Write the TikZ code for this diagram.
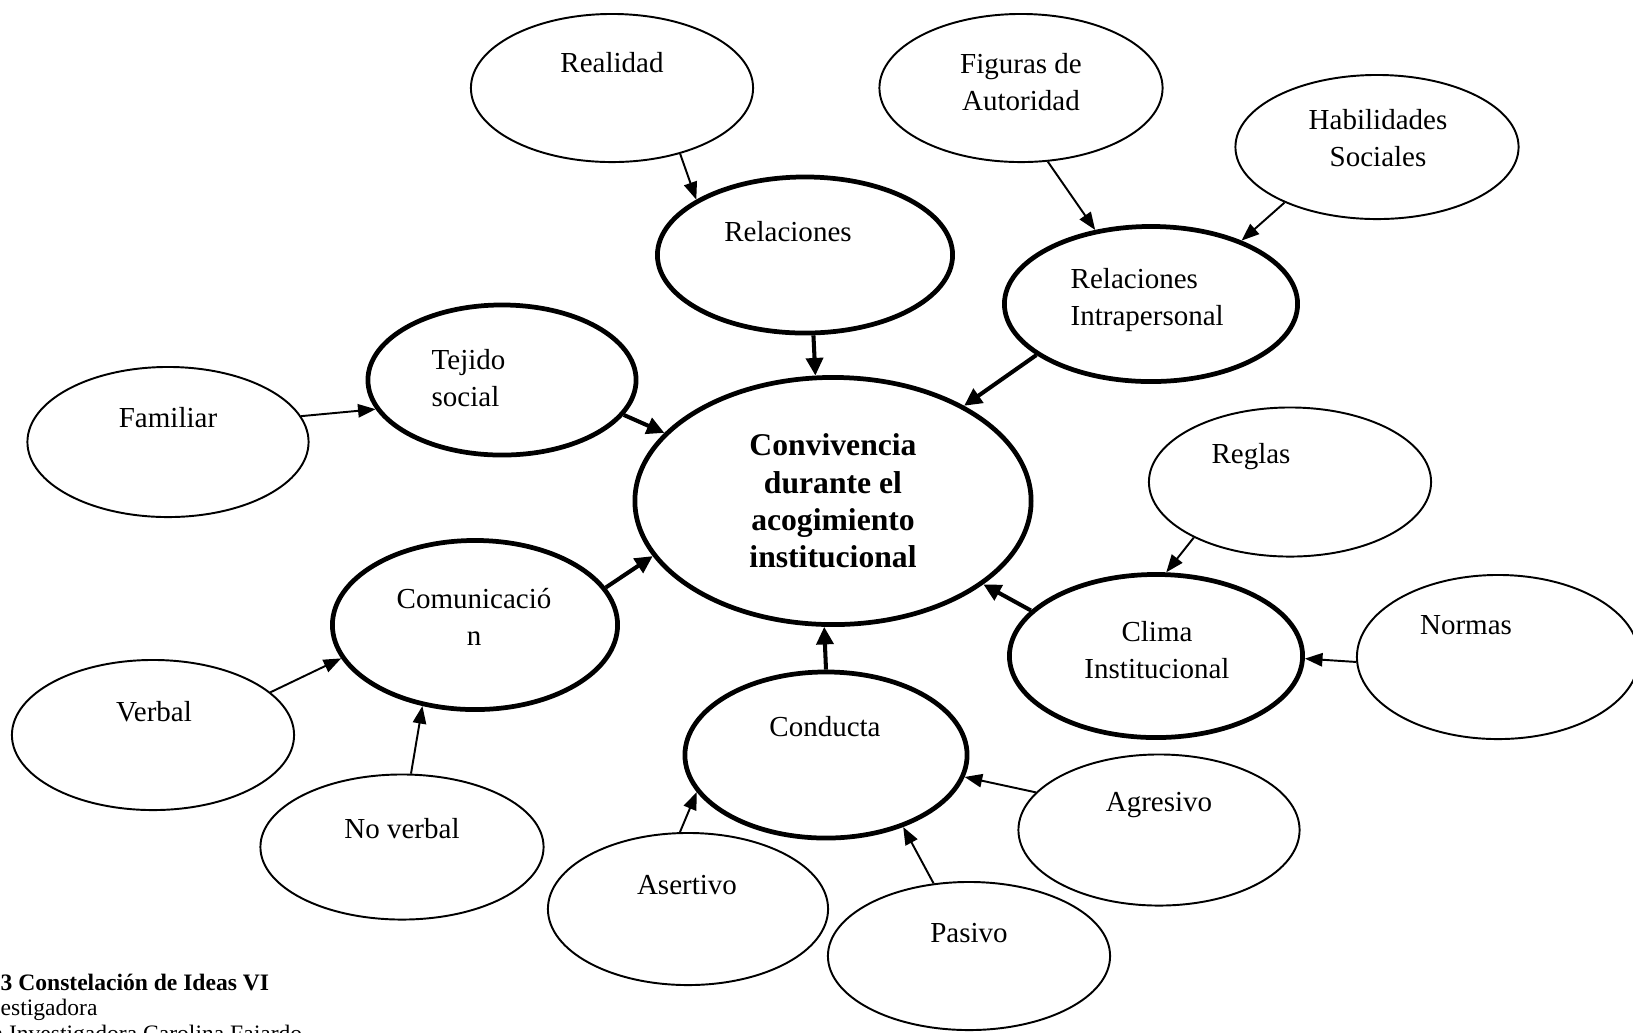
\documentclass[tikz,border=0pt]{standalone}
\usepackage{fontspec}
\setmainfont{Liberation Serif}
\usetikzlibrary{shapes.geometric,arrows.meta}

\begin{document}
\begin{tikzpicture}[x=0.01cm, y=-0.01cm,
      idea/.style={ellipse, draw, line width=0.55pt, inner sep=0pt},
      eje/.style={ellipse, draw, line width=1.35pt, inner sep=0pt},
      txt/.style={font=\fontsize{8.25}{10.4}\selectfont, inner sep=0pt, align=center},
      pie/.style={font=\fontsize{6.7}{7.1}\selectfont, inner sep=0pt, anchor=base west},
      fina/.style={line width=0.55pt, -{Triangle[length=5pt,width=3.8pt]}},
      gruesa/.style={line width=1.15pt, -{Triangle[length=5pt,width=4.8pt]}} ]
  \useasboundingbox (0,0) rectangle (1633,1032);

  \node[idea, minimum width=2.82cm, minimum height=1.48cm] (realidad) at (612,88) {};
  \node[idea, minimum width=2.83cm, minimum height=1.48cm] (figuras) at (1021,88) {};
  \node[idea, minimum width=2.83cm, minimum height=1.44cm] (habilidades) at (1377,147) {};
  \node[eje, minimum width=2.95cm, minimum height=1.56cm] (relaciones) at (805,255) {};
  \node[eje, minimum width=2.93cm, minimum height=1.55cm] (intrap) at (1151,304) {};
  \node[eje, minimum width=2.68cm, minimum height=1.50cm] (tejido) at (502,380) {};
  \node[idea, minimum width=2.81cm, minimum height=1.50cm] (familiar) at (168,442) {};
  \node[eje, minimum width=3.96cm, minimum height=2.47cm,
        font=\fontsize{9}{10.6}\selectfont\bfseries, align=center] (centro) at (833,501)
        {Convivencia\\durante el\\acogimiento\\institucional};
  \node[idea, minimum width=2.82cm, minimum height=1.49cm] (reglas) at (1290,482) {};
  \node[eje, minimum width=2.85cm, minimum height=1.69cm] (comunic) at (475,625) {};
  \node[eje, minimum width=2.93cm, minimum height=1.63cm] (clima) at (1156,656) {};
  \node[idea, minimum width=2.82cm, minimum height=1.64cm] (normas) at (1498,657) {};
  \node[idea, minimum width=2.82cm, minimum height=1.50cm] (verbal) at (153,735) {};
  \node[eje, minimum width=2.82cm, minimum height=1.66cm] (conducta) at (826,755) {};
  \node[idea, minimum width=2.83cm, minimum height=1.45cm] (noverbal) at (402,847) {};
  \node[idea, minimum width=2.81cm, minimum height=1.51cm] (agresivo) at (1159,830) {};
  \node[idea, minimum width=2.80cm, minimum height=1.52cm] (asertivo) at (688,909) {};
  \node[idea, minimum width=2.82cm, minimum height=1.48cm] (pasivo) at (969,956) {};

  \node[txt] (realidad-t) at (612,63) {Realidad};
  \node[txt] (figuras-t) at (1021,82) {Figuras de\\Autoridad};
  \node[txt] (habilidades-t) at (1378,138) {Habilidades\\Sociales};
  \node[txt] (relaciones-t) at (788,232) {Relaciones};
  \node[txt, anchor=west, align=left] (intrap-t) at (1070,300) {Relaciones\\Intrapersonal};
  \node[txt, anchor=west, align=left] (tejido-t) at (431,378) {Tejido\\social};
  \node[txt] (familiar-t) at (168,418) {Familiar};
  \node[txt] (reglas-t) at (1251,457) {Reglas};
  \node[txt] (comunic-t) at (474,617) {Comunicació\\n};
  \node[txt] (clima-t) at (1157,650) {Clima\\Institucional};
  \node[txt] (normas-t) at (1466,625) {Normas};
  \node[txt] (verbal-t) at (154,712) {Verbal};
  \node[txt] (conducta-t) at (825,727) {Conducta};
  \node[txt] (noverbal-t) at (402,829) {No verbal};
  \node[txt] (agresivo-t) at (1159,805) {Agresivo};
  \node[txt] (asertivo-t) at (687,885) {Asertivo};
  \node[txt] (pasivo-t) at (969,933) {Pasivo};

  \draw[fina] (realidad.-44.6) -- (relaciones.153.2);
  \draw[fina] (figuras.-70.2) -- (intrap.127.6);
  \draw[fina] (habilidades.211.7) -- (intrap.35.5);
  \draw[gruesa] (relaciones.-84) -- (centro.98.8);
  \draw[gruesa] (intrap.204.5) -- (centro.36.4);
  \draw[gruesa] (tejido.-16.4) -- (centro.158.4);
  \draw[fina] (familiar.11.5) -- (tejido.193.1);
  \draw[gruesa] (comunic.16.3) -- (centro.197.8);
  \draw[fina] (verbal.20.9) -- (comunic.194.2);
  \draw[fina] (noverbal.83.8) -- (comunic.237.9);
  \draw[gruesa] (conducta.90) -- (centro.266.8);
  \draw[fina] (asertivo.96.8) -- (conducta.196.2);
  \draw[fina] (pasivo.116) -- (conducta.-43.5);
  \draw[fina] (agresivo.163.9) -- (conducta.-9.3);
  \draw[fina] (reglas.210.1) -- (clima.83.2);
  \draw[gruesa] (clima.160.3) -- (centro.-29.6);
  \draw[fina] (normas.182) -- (clima.-1.5);

  \node[pie, font=\fontsize{6.7}{7.1}\selectfont\bfseries] (figura) at (0,990) {3 Constelación de Ideas VI};
  \node[pie] (fuente) at (0,1015) {estigadora};
  \node[pie] (autora) at (-8,1041) {a Investigadora Carolina Fajardo};
\end{tikzpicture}
\end{document}
